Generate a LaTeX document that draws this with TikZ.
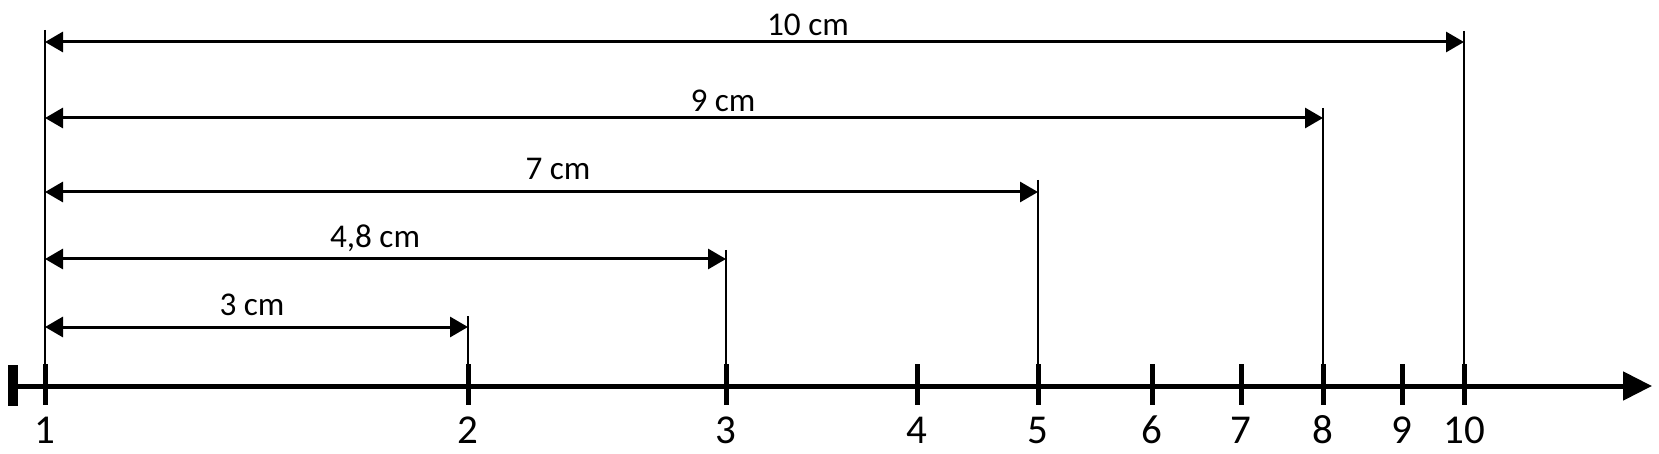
\documentclass[tikz,border=0pt]{standalone}
\usepackage{fontspec}
\setmainfont{Carlito}
\usetikzlibrary{arrows.meta}

\begin{document}
\begin{tikzpicture}[x=0.5pt, y=-0.5pt,
	dimline/.style={line width=1.5pt, {Triangle[length=9pt,width=10pt]}-{Triangle[length=9pt,width=10pt]}},
	extline/.style={line width=1pt},
	tickmark/.style={line width=2.5pt},
	ticklabel/.style={font=\fontsize{20.5}{20.5}\selectfont, inner sep=0pt, anchor=base},
	dimlabel/.style={font=\fontsize{16.6}{16.6}\selectfont, inner sep=0pt, anchor=base}]

\useasboundingbox (0,0) rectangle (1659,454);

% axis
\coordinate (origin) at (18,386);
\coordinate (axisend) at (1652,386);
\draw[line width=2.5pt, -{Triangle[length=14.5pt,width=14pt]}] (origin) -- (axisend);
\fill (8,365) rectangle (18,406);

\foreach \x/\n in {45/1,468/2,726/3,917/4,1038/5,1152/6,1241/7,1323/8,1402/9,1464/10}
{
	\coordinate (tick\n) at (\x,386);
	\draw[tickmark] (\x,364) -- (\x,405);
	\node[ticklabel] (num\n) at (\x,443) {\n};
}

% extension lines and dimensions
\coordinate (top1) at (45,30);
\draw[extline] (top1) -- (tick1);

\foreach \n/\x/\top/\y/\lx/\lb/\txt in {2/468/316/327/252/315/3 cm,3/726/250/259/375/248/{4,8 cm},5/1038/180/192/558/180/7 cm,8/1323/108/118/723/112/9 cm,10/1464/31/42/808/36/10 cm}
{
	\coordinate (top\n) at (\x,\top);
	\draw[extline] (top\n) -- (tick\n);
	\coordinate (left\n) at (45,\y);
	\coordinate (right\n) at (\x,\y);
	\draw[dimline] (left\n) -- (right\n);
	\node[dimlabel] (lab\n) at (\lx,\lb) {\txt};
}

\end{tikzpicture}
\end{document}
